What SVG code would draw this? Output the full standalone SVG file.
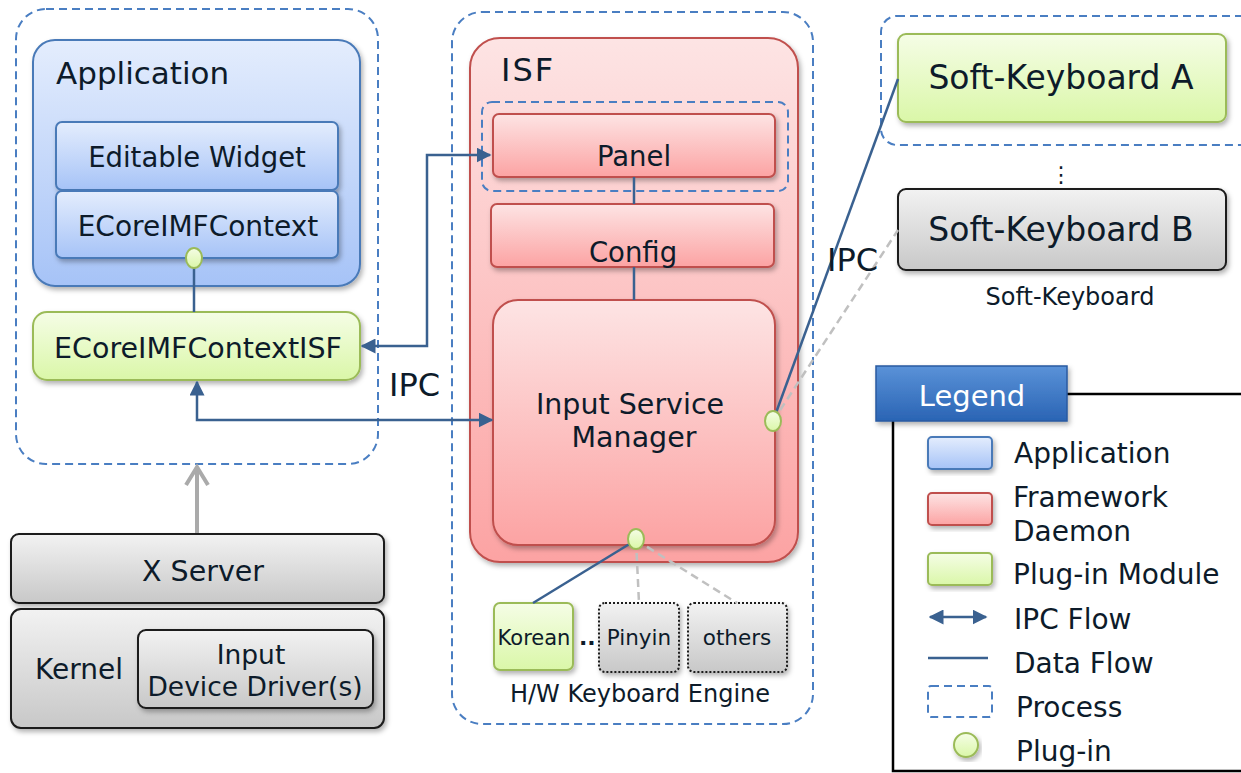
<svg xmlns="http://www.w3.org/2000/svg" width="1241" height="773" viewBox="0 0 1241 773">
<defs>
<linearGradient id="gBlue" x1="0" y1="0" x2="0" y2="1"><stop offset="0" stop-color="#e4edfd"/><stop offset="1" stop-color="#a6c3f7"/></linearGradient>
<linearGradient id="gRed" x1="0" y1="0" x2="0" y2="1"><stop offset="0" stop-color="#fde4e4"/><stop offset="1" stop-color="#fca3a3"/></linearGradient>
<linearGradient id="gGreen" x1="0" y1="0" x2="0" y2="1"><stop offset="0" stop-color="#f5fde6"/><stop offset="1" stop-color="#daf7a8"/></linearGradient>
<linearGradient id="gGray" x1="0" y1="0" x2="0" y2="1"><stop offset="0" stop-color="#f2f2f2"/><stop offset="1" stop-color="#c8c8c8"/></linearGradient>
<linearGradient id="gLegend" x1="0" y1="0" x2="0" y2="1"><stop offset="0" stop-color="#5a92d8"/><stop offset="1" stop-color="#2a64b4"/></linearGradient>
<filter id="sh" x="-10%" y="-10%" width="125%" height="130%"><feDropShadow dx="2" dy="3" stdDeviation="2.5" flood-color="#000" flood-opacity="0.3"/></filter>
<marker id="ah" viewBox="0 0 10 10" refX="9" refY="5" markerWidth="6" markerHeight="6" orient="auto-start-reverse"><path d="M0,0 L10,5 L0,10 z" fill="#3a6190"/></marker>
</defs>
<style>
text{font-family:"DejaVu Sans","Liberation Sans",sans-serif;fill:#0d1b2a}
.proc{fill:none;stroke:#4a7ec2;stroke-width:2;stroke-dasharray:8,5}
.blue{fill:url(#gBlue);stroke:#4a7ab8;stroke-width:2}
.red{fill:url(#gRed);stroke:#c0504d;stroke-width:2}
.green{fill:url(#gGreen);stroke:#9bbb59;stroke-width:2}
.gray{fill:url(#gGray);stroke:#1a1a1a;stroke-width:2}
.dotted{fill:url(#gGray);stroke:#1a1a1a;stroke-width:2;stroke-dasharray:2,2}
.plug{fill:url(#gGreen);stroke:#9bbb59;stroke-width:2}
.data{fill:none;stroke:#3a6190;stroke-width:2.5}
.gdash{fill:none;stroke:#c0c0c0;stroke-width:2.5;stroke-dasharray:8,5}
.c{text-anchor:middle}
.lg{font-size:28px}
</style>

<!-- process containers -->
<g id="proc-app"><rect class="proc" x="16" y="9" width="362" height="455" rx="30"/></g>
<g id="proc-isf"><rect class="proc" x="452" y="12" width="361" height="712" rx="30"/></g>
<g id="proc-skb"><rect class="proc" x="881" y="16" width="380" height="129" rx="16"/></g>

<g id="application">
<rect class="blue" x="33" y="40" width="327" height="246" rx="22" filter="url(#sh)"/>
<text x="56" y="84" font-size="31">Application</text>
</g>
<g id="editable-widget">
<rect class="blue" x="56" y="122" width="282" height="68" rx="6" filter="url(#sh)"/>
<text class="c" x="197" y="167" font-size="27.5">Editable Widget</text>
</g>
<g id="ecoreimfcontext">
<rect class="blue" x="56" y="191" width="282" height="67" rx="6" filter="url(#sh)"/>
<text class="c" x="198" y="236" font-size="28">ECoreIMFContext</text>
</g>
<g id="ecoreimfcontextisf">
<rect class="green" x="33" y="312" width="327" height="68" rx="14" filter="url(#sh)"/>
<text class="c" x="198" y="358" font-size="28.5">ECoreIMFContextISF</text>
</g>

<g id="xserver">
<rect class="gray" x="11" y="534" width="373" height="69" rx="8" filter="url(#sh)"/>
<text class="c" x="203" y="581" font-size="28.5">X Server</text>
</g>
<g id="kernel">
<rect class="gray" x="11" y="609" width="373" height="119" rx="10" filter="url(#sh)"/>
<text x="35" y="679" font-size="28">Kernel</text>
</g>
<g id="input-device-driver">
<rect class="gray" x="138" y="630" width="235" height="78" rx="8" filter="url(#sh)"/>
<text class="c" x="251" y="664" font-size="26.5">Input</text>
<text class="c" x="255" y="696" font-size="26.5">Device Driver(s)</text>
</g>

<g id="isf">
<rect class="red" x="470" y="38" width="328" height="524" rx="30" filter="url(#sh)"/>
<text x="501" y="81" font-size="32" letter-spacing="2">ISF</text>
</g>
<g id="panel-process"><rect class="proc" x="482" y="102" width="306" height="89" rx="10"/></g>
<g id="panel">
<rect class="red" x="493" y="114" width="282" height="63" rx="6" filter="url(#sh)"/>
<text class="c" x="634" y="166" font-size="27.5">Panel</text>
</g>
<g id="config">
<rect class="red" x="491" y="204" width="283" height="63" rx="6" filter="url(#sh)"/>
<text class="c" x="633" y="262" font-size="27.5">Config</text>
</g>
<g id="input-service-manager">
<rect class="red" x="493" y="300" width="282" height="245" rx="25" filter="url(#sh)"/>
<text class="c" x="630" y="414" font-size="28.5">Input Service</text>
<text class="c" x="634" y="447" font-size="28.5">Manager</text>
</g>

<g id="korean">
<rect class="green" x="494" y="603" width="79" height="67" rx="6" filter="url(#sh)"/>
<text class="c" x="534" y="645" font-size="21">Korean</text>
</g>
<g id="pinyin">
<rect class="dotted" x="599" y="603" width="80" height="69" rx="6" filter="url(#sh)"/>
<text class="c" x="639" y="645" font-size="21.5">Pinyin</text>
</g>
<g id="others">
<rect class="dotted" x="688" y="603" width="99" height="69" rx="6" filter="url(#sh)"/>
<text class="c" x="737" y="645" font-size="21.5">others</text>
</g>
<g id="hw-label">
<text x="579" y="645" font-size="22" font-weight="bold">..</text>
<text class="c" x="640" y="702" font-size="24">H/W Keyboard Engine</text>
</g>

<g id="soft-keyboard-a">
<rect class="green" x="898" y="34" width="328" height="88" rx="8" filter="url(#sh)"/>
<text class="c" x="1061" y="89" font-size="33">Soft-Keyboard A</text>
</g>
<g id="soft-keyboard-b">
<rect class="gray" x="898" y="189" width="328" height="81" rx="8" filter="url(#sh)"/>
<text class="c" x="1061" y="241" font-size="33">Soft-Keyboard B</text>
</g>
<g id="skb-label">
<text class="c" x="1061" y="182" font-size="22">⋮</text>
<text class="c" x="1070" y="305" font-size="24">Soft-Keyboard</text>
</g>

<!-- connectors -->
<g id="connectors">
<line class="data" x1="194" y1="258" x2="194" y2="312"/>
<line class="data" x1="634" y1="177" x2="634" y2="204"/>
<line class="data" x1="634" y1="267" x2="634" y2="300"/>
<polyline class="data" points="490,155 427,155 427,346 362,346" marker-start="url(#ah)" marker-end="url(#ah)"/>
<polyline class="data" points="492,420 197,420 197,382" marker-start="url(#ah)" marker-end="url(#ah)"/>
<line class="data" x1="773" y1="421" x2="898" y2="79"/>
<line class="gdash" x1="773" y1="421" x2="898" y2="230"/>
<line class="data" x1="636" y1="540" x2="533" y2="603"/>
<line class="gdash" x1="636" y1="540" x2="639" y2="603"/>
<line class="gdash" x1="636" y1="540" x2="737" y2="603"/>
<line x1="197" y1="533" x2="197" y2="468" stroke="#aaaaaa" stroke-width="4"/>
<path d="M186,485 L197,467 L208,485" fill="none" stroke="#aaaaaa" stroke-width="4"/>
<text x="389" y="396" font-size="32">IPC</text>
<text x="827" y="271" font-size="32">IPC</text>
</g>

<g id="plugins">
<ellipse class="plug" cx="194" cy="258" rx="8" ry="10"/>
<ellipse class="plug" cx="773" cy="421" rx="8" ry="10"/>
<ellipse class="plug" cx="636" cy="539" rx="8" ry="10"/>
</g>

<g id="legend">
<polyline points="1067,394 1241,394" fill="none" stroke="#000" stroke-width="2.5"/>
<polyline points="893,421 893,771 1241,771" fill="none" stroke="#000" stroke-width="2.5"/>
<rect x="876" y="366" width="191" height="55" fill="url(#gLegend)" stroke="#2a5aa0" stroke-width="1.5" filter="url(#sh)"/>
<text class="c" x="972" y="406" font-size="29" style="fill:#ffffff">Legend</text>
<rect class="blue" x="928" y="437" width="64" height="32" rx="4" filter="url(#sh)"/>
<text class="lg" x="1014" y="463">Application</text>
<rect class="red" x="928" y="493" width="64" height="32" rx="4" filter="url(#sh)"/>
<text class="lg" x="1013" y="507">Framework</text>
<text class="lg" x="1013" y="541">Daemon</text>
<rect class="green" x="928" y="553" width="64" height="32" rx="4" filter="url(#sh)"/>
<text class="lg" x="1013" y="584">Plug-in Module</text>
<line class="data" x1="930" y1="617" x2="986" y2="617" marker-start="url(#ah)" marker-end="url(#ah)"/>
<text class="lg" x="1014" y="629">IPC Flow</text>
<line class="data" x1="928" y1="658" x2="988" y2="658"/>
<text class="lg" x="1014" y="673">Data Flow</text>
<rect class="proc" x="928" y="686" width="64" height="31" rx="3"/>
<text class="lg" x="1016" y="717">Process</text>
<circle class="plug" cx="966" cy="745" r="12" filter="url(#sh)"/>
<text class="lg" x="1016" y="761">Plug-in</text>
</g>
</svg>
